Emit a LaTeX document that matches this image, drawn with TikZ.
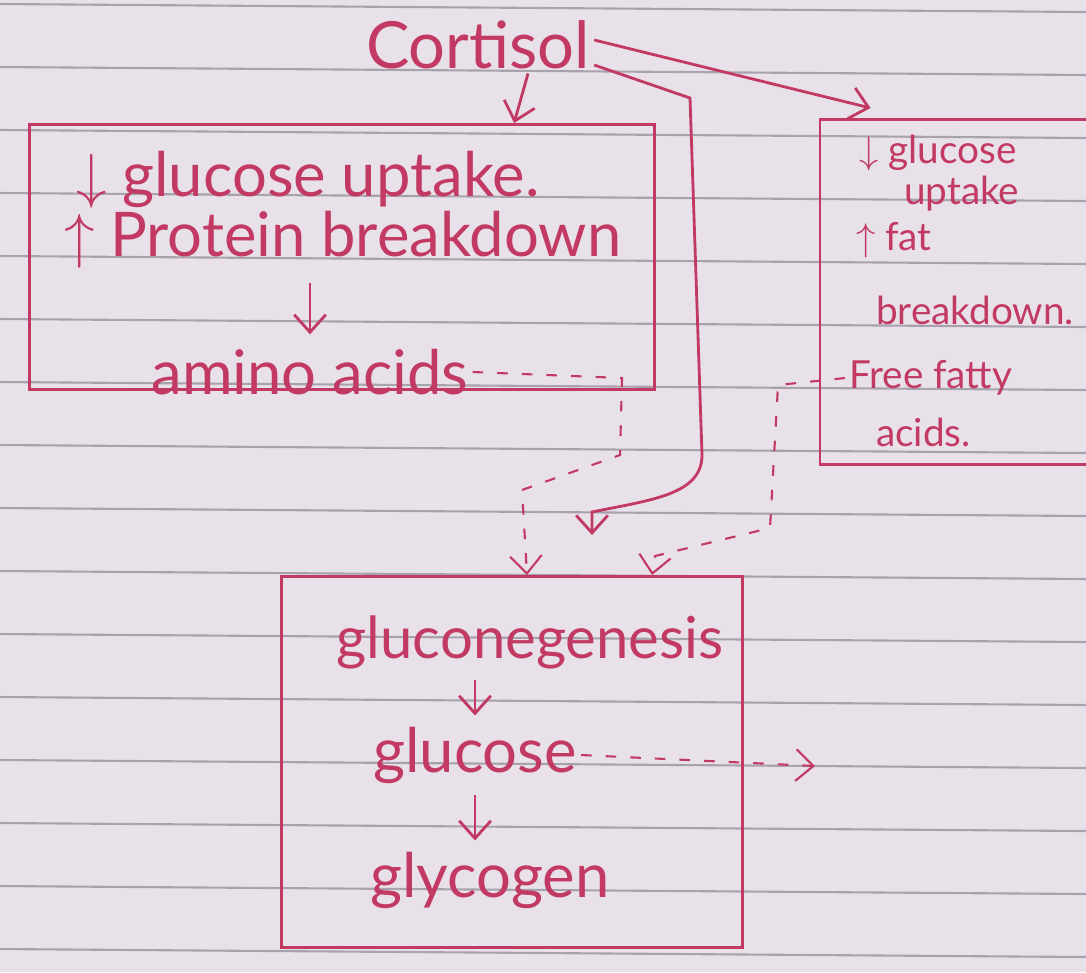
\documentclass[tikz,border=0pt]{standalone}
\usepackage{fontspec}
\setmainfont{Lato}
\usetikzlibrary{arrows.meta}
\begin{document}
\begin{tikzpicture}[x=0.01cm,y=-0.01cm,
  ink/.style={draw=pen,line width=0.8pt},
  box/.style={ink,rectangle,inner sep=0pt},
  txt/.style={text=pen,inner sep=1pt,font=\fontsize{17.5}{20}\selectfont},
  small/.style={txt,font=\fontsize{11}{13}\selectfont},
  arr/.style={ink,-{Straight Barb[length=5pt,width=9pt]}},
  dots/.style={arr,line width=0.6pt,dash pattern=on 3pt off 4pt}]
  \definecolor{paper}{HTML}{E8E1EA}
  \definecolor{rule}{HTML}{A8A2AC}
  \definecolor{pen}{HTML}{C23A63}
  \useasboundingbox (0,0) rectangle (1086,972);
  \clip (0,0) rectangle (1086,972);
  \fill [paper] (0,0) rectangle (1086,972);
  % ruled paper
  \foreach \y in {4,67,...,949}
    \draw [rule,line width=0.6pt] (0,\y) -- (1086,\y+8);

  % boxes
  \node (lbox) [box,minimum width=6.25cm,minimum height=2.65cm] at (342,257) {};
  \node (rbox) [box,minimum width=3.2cm,minimum height=3.45cm] at (980,292) {};
  \node (bbox) [box,minimum width=4.6cm,minimum height=3.71cm] at (512,762) {};

  \node (cort) [txt,font=\fontsize{18.5}{20}\selectfont] at (478,45) {Cortisol};

  \node (gup) [txt,anchor=west] at (72,180) {$\downarrow$ glucose uptake.};
  \node (pbd) [txt,anchor=west] at (60,240) {$\uparrow$ Protein breakdown};
  \node (amino) [txt] at (310,372) {amino acids};
  \draw [arr,shorten <=3pt,shorten >=3pt] (pbd.south -| amino.north) -- (amino.north);

  \node (rgup) [small,anchor=west] at (855,153) {$\downarrow$ glucose};
  \node (rupt) [small,anchor=west] at (900,194) {uptake};
  \node (fat) [small,anchor=west] at (852,240) {$\uparrow$ fat};
  \node (fbd) [small,anchor=west] at (872,310) {breakdown.};
  \node (ffa) [small,anchor=west] at (845,378) {Free fatty};
  \node (acids) [small,anchor=west] at (872,432) {acids.};

  \node (glng) [txt,font=\fontsize{16.5}{20}\selectfont] at (530,642) {gluconegenesis};
  \node (gluc) [txt] at (475,755) {glucose};
  \node (glyc) [txt] at (490,880) {glycogen};
  \draw [arr,shorten <=2pt,shorten >=2pt] (gluc.north |- glng.south) -- (gluc.north);
  \draw [arr,shorten <=2pt,shorten >=2pt] (gluc.south) -- (gluc.south |- glyc.north);

  % cortisol arrows
  \draw [arr] ([xshift=0.5cm]cort.south) -- ([xshift=1.72cm]lbox.north);
  \draw [arr] ([yshift=0.05cm]cort.east) -- ([xshift=0.52cm,yshift=0.1cm]rbox.north west);
  \coordinate (cin) at (592,535);
  \draw [arr] ([yshift=-0.2cm]cort.east) -- (690,98) -- (702,455)
    .. controls (702,495) and (650,500) .. (592,512) -- (cin);

  % dashed routes
  \draw [dots] (amino.east) -- (622,378) -- (620,455) -- (522,490) -- ([xshift=0.15cm]bbox.north);
  \draw [dots] (ffa.west) -- (778,385) -- (770,528) -- (655,556) -- ([xshift=1.4cm]bbox.north);
  \coordinate (gout) at (815,766);
  \draw [dots] (gluc.east) -- (gout);
\end{tikzpicture}
\end{document}
